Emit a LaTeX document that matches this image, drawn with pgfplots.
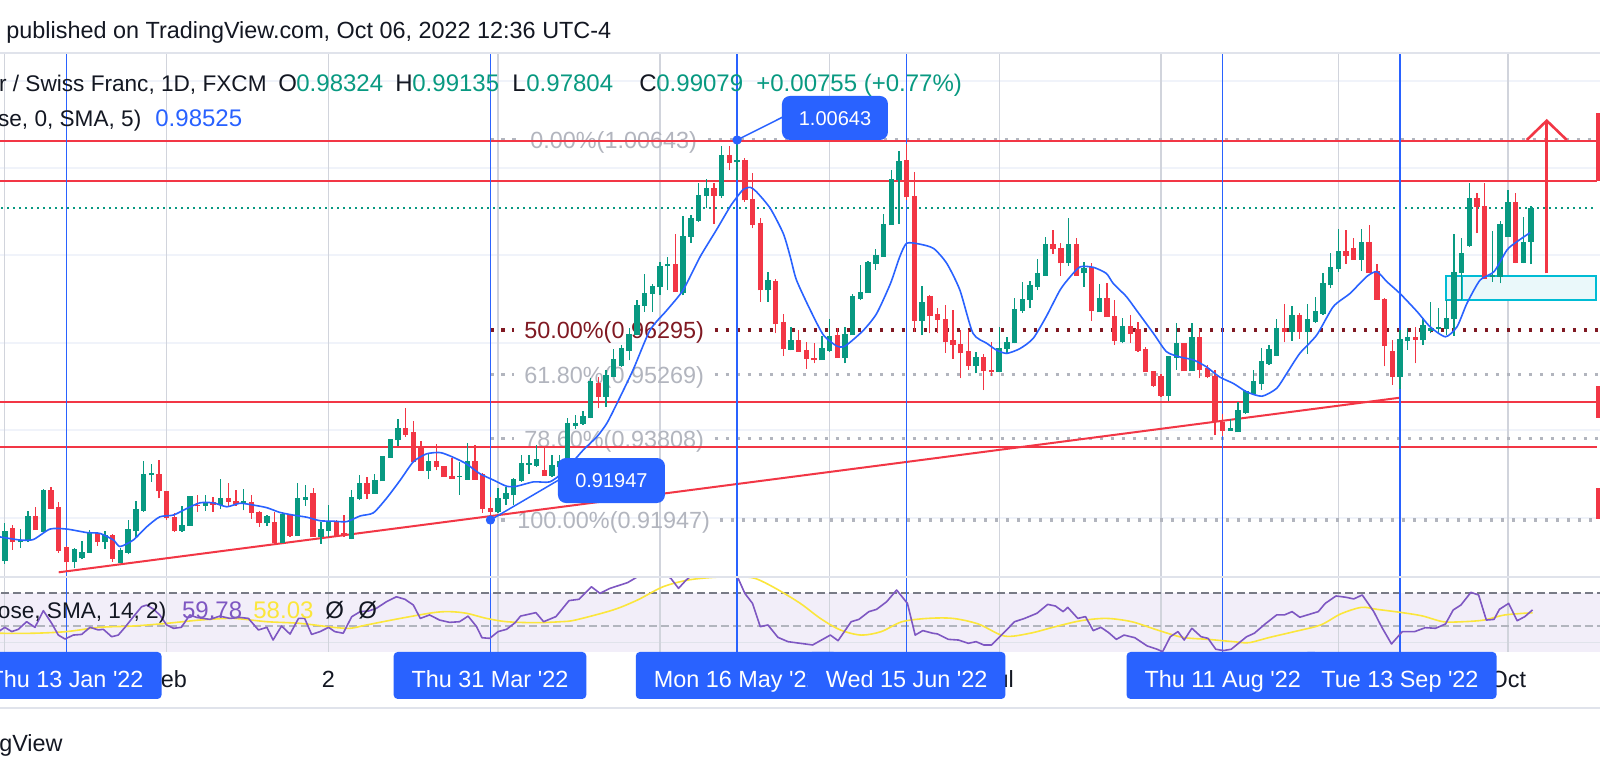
\documentclass[border=0pt]{standalone}
\usepackage{fontspec}
\setmainfont{Liberation Sans}
\usepackage{pgfplots}
\pgfplotsset{compat=1.18}
\usepackage{pgfplotstable}
\definecolor{upc}{HTML}{089981}
\definecolor{dnc}{HTML}{F23645}
\definecolor{tvblue}{HTML}{2962FF}
\definecolor{txt}{HTML}{131722}
\definecolor{fibgray}{HTML}{B2B5BE}
\definecolor{fibred}{HTML}{801922}
\definecolor{gridv}{HTML}{D1D4DC}
\definecolor{gridh}{HTML}{F0F3FA}
\definecolor{sepc}{HTML}{E0E3EB}
\definecolor{rsip}{HTML}{7E57C2}
\definecolor{rsiy}{HTML}{FBE63C}
\definecolor{bandc}{HTML}{F2EEF9}
\definecolor{cyanb}{HTML}{00BCD4}
\definecolor{cyanf}{HTML}{EAF8FA}
\definecolor{dashA}{HTML}{787B86}
\definecolor{dashB}{HTML}{B2B5BE}
\newcommand{\fs}[1]{\fontsize{#1}{#1}\selectfont}
\pgfplotstableread{
i o h l c u
-8 0.9103 0.9189 0.9095 0.9168 1
-7 0.9176 0.9183 0.9127 0.9145 0
-6 0.9145 0.9173 0.9131 0.9149 1
-5 0.9147 0.9215 0.9145 0.9202 1
-4 0.9202 0.9225 0.9172 0.9172 0
-3 0.9168 0.9266 0.9168 0.9263 1
-2 0.9263 0.9271 0.9221 0.9221 0
-1 0.9223 0.9236 0.9120 0.9126 0
0 0.9131 0.9136 0.9076 0.9099 0
1 0.9099 0.9130 0.9084 0.9128 1
2 0.9108 0.9147 0.9105 0.9121 1
3 0.9121 0.9172 0.9120 0.9167 1
4 0.9164 0.9168 0.9136 0.9145 0
5 0.9145 0.9170 0.9128 0.9159 1
6 0.9160 0.9162 0.9099 0.9107 0
7 0.9098 0.9130 0.9098 0.9124 1
8 0.9121 0.9195 0.9116 0.9172 1
9 0.9170 0.9239 0.9156 0.9220 1
10 0.9217 0.9330 0.9214 0.9298 1
11 0.9298 0.9323 0.9282 0.9301 1
12 0.9298 0.9333 0.9244 0.9261 0
13 0.9261 0.9261 0.9195 0.9201 0
14 0.9201 0.9211 0.9168 0.9170 0
15 0.9170 0.9227 0.9168 0.9182 1
16 0.9182 0.9250 0.9182 0.9248 1
17 0.9229 0.9252 0.9214 0.9227 0
18 0.9229 0.9253 0.9216 0.9236 1
19 0.9235 0.9248 0.9214 0.9231 0
20 0.9231 0.9288 0.9219 0.9245 1
21 0.9245 0.9279 0.9227 0.9237 0
22 0.9238 0.9263 0.9227 0.9233 0
23 0.9234 0.9266 0.9217 0.9238 1
24 0.9235 0.9252 0.9198 0.9212 0
25 0.9212 0.9216 0.9179 0.9189 0
26 0.9188 0.9207 0.9181 0.9204 1
27 0.9189 0.9214 0.9139 0.9143 0
28 0.9143 0.9212 0.9141 0.9207 1
29 0.9206 0.9206 0.9156 0.9160 0
30 0.9159 0.9279 0.9159 0.9243 1
31 0.9242 0.9275 0.9227 0.9246 1
32 0.9256 0.9269 0.9156 0.9156 0
33 0.9156 0.9191 0.9140 0.9172 1
34 0.9170 0.9230 0.9156 0.9191 1
35 0.9191 0.9195 0.9160 0.9160 0
36 0.9164 0.9206 0.9156 0.9159 0
37 0.9153 0.9263 0.9151 0.9246 1
38 0.9243 0.9298 0.9240 0.9279 1
39 0.9279 0.9294 0.9242 0.9256 0
40 0.9256 0.9299 0.9256 0.9286 1
41 0.9284 0.9340 0.9284 0.9340 1
42 0.9338 0.9379 0.9338 0.9379 1
43 0.9378 0.9425 0.9364 0.9404 1
44 0.9404 0.9452 0.9385 0.9391 0
45 0.9394 0.9422 0.9327 0.9328 0
46 0.9362 0.9375 0.9308 0.9309 0
47 0.9308 0.9347 0.9288 0.9328 1
48 0.9328 0.9369 0.9308 0.9317 0
49 0.9318 0.9318 0.9294 0.9294 0
50 0.9295 0.9336 0.9290 0.9290 0
51 0.9294 0.9328 0.9252 0.9295 1
52 0.9288 0.9372 0.9288 0.9328 1
53 0.9328 0.9366 0.9288 0.9288 0
54 0.9300 0.9302 0.9211 0.9220 0
55 0.9221 0.9248 0.91947 0.9214 0
56 0.9213 0.9269 0.9210 0.9244 1
57 0.9244 0.9271 0.9229 0.9255 1
58 0.9252 0.9290 0.9229 0.9287 1
59 0.9286 0.9343 0.9282 0.9324 1
60 0.9322 0.9343 0.9301 0.9324 1
61 0.9320 0.9366 0.9316 0.9333 1
62 0.9307 0.9362 0.9296 0.9296 0
63 0.9297 0.9343 0.9293 0.9320 1
64 0.9316 0.9343 0.9301 0.9328 1
65 0.9316 0.9427 0.9316 0.9416 1
66 0.9412 0.9435 0.9404 0.9416 1
67 0.9416 0.9445 0.9412 0.9431 1
68 0.9429 0.9519 0.9427 0.9511 1
69 0.9507 0.9522 0.9450 0.9477 0
70 0.9477 0.9538 0.9454 0.9526 1
71 0.9524 0.9587 0.9522 0.9562 1
72 0.9549 0.9595 0.9545 0.9587 1
73 0.9583 0.9633 0.9560 0.9620 1
74 0.9620 0.9698 0.9618 0.9686 1
75 0.9686 0.9757 0.9671 0.9713 1
76 0.9713 0.9734 0.9671 0.9730 1
77 0.9728 0.9786 0.9709 0.9776 1
78 0.9776 0.9797 0.9721 0.9779 1
79 0.9780 0.9850 0.9717 0.9717 0
80 0.9715 0.9890 0.9709 0.9844 1
81 0.9844 0.9892 0.9829 0.9885 1
82 0.9881 0.9965 0.9877 0.9938 1
83 0.9937 0.9976 0.9908 0.9953 1
84 0.9953 0.9965 0.9873 0.9938 0
85 0.9938 1.0050 0.9931 1.0030 1
86 1.0030 1.0050 0.9995 1.0013 0
87 1.0014 1.00643 0.9973 1.0018 1
88 1.0018 1.0022 0.9923 0.9927 0
89 0.9928 0.9988 0.9862 0.9872 0
90 0.9873 0.9885 0.9694 0.9721 0
91 0.9721 0.9763 0.9694 0.9744 1
92 0.9741 0.9747 0.9622 0.9644 0
93 0.9646 0.9667 0.9570 0.9587 0
94 0.9585 0.9637 0.9583 0.9606 1
95 0.9606 0.9629 0.9580 0.9581 0
96 0.9583 0.9602 0.9541 0.9564 0
97 0.9564 0.9599 0.9553 0.9561 0
98 0.9561 0.9615 0.9561 0.9587 1
99 0.9583 0.9654 0.9580 0.9614 1
100 0.9618 0.9633 0.9566 0.9566 0
101 0.9566 0.9637 0.9553 0.9619 1
102 0.9618 0.9712 0.9618 0.9706 1
103 0.9702 0.9778 0.9698 0.9715 1
104 0.9715 0.9787 0.9715 0.9784 1
105 0.9782 0.9816 0.9767 0.9799 1
106 0.9797 0.9896 0.9797 0.9872 1
107 0.9870 0.9995 0.9870 0.9973 1
108 0.9973 1.0040 0.9873 1.0015 1
109 1.0017 1.0055 0.9927 0.9934 0
110 0.9936 0.9992 0.9625 0.9652 0
111 0.9652 0.9731 0.9618 0.9692 1
112 0.9706 0.9709 0.9622 0.9662 0
113 0.9664 0.9679 0.9622 0.9654 0
114 0.9654 0.9686 0.9577 0.9602 0
115 0.9605 0.9675 0.9564 0.9597 0
116 0.9597 0.9629 0.9519 0.9577 0
117 0.9580 0.9629 0.9539 0.9549 0
118 0.9549 0.9580 0.9530 0.9567 1
119 0.9567 0.9574 0.9492 0.9536 0
120 0.9538 0.9602 0.9524 0.9534 0
121 0.9534 0.9637 0.9534 0.9587 1
122 0.9587 0.9614 0.9574 0.9602 1
123 0.9600 0.9702 0.9599 0.9677 1
124 0.9675 0.9740 0.9669 0.9699 1
125 0.9699 0.9742 0.9679 0.9732 1
126 0.9730 0.9793 0.9721 0.9759 1
127 0.9755 0.9843 0.9755 0.9826 1
128 0.9825 0.9858 0.9803 0.9815 0
129 0.9816 0.9828 0.9754 0.9783 0
130 0.9783 0.9885 0.9776 0.9826 1
131 0.9825 0.9839 0.9755 0.9755 0
132 0.9760 0.9786 0.9728 0.9770 1
133 0.9773 0.9783 0.9651 0.9673 0
134 0.9671 0.9734 0.9671 0.9702 1
135 0.9702 0.9736 0.9660 0.9660 0
136 0.9661 0.9698 0.9595 0.9605 0
137 0.9603 0.9656 0.9599 0.9638 1
138 0.9638 0.9664 0.9599 0.9622 0
139 0.9631 0.9648 0.9580 0.9583 0
140 0.9585 0.9590 0.9534 0.9534 0
141 0.9534 0.9536 0.9499 0.9503 0
142 0.9524 0.9528 0.9477 0.9480 0
143 0.9480 0.9570 0.9467 0.9568 1
144 0.9566 0.9646 0.9539 0.9599 1
145 0.9599 0.9599 0.9536 0.9536 0
146 0.9536 0.9646 0.9536 0.9612 1
147 0.9612 0.9631 0.9519 0.9539 0
148 0.9541 0.9549 0.9519 0.9522 0
149 0.9524 0.9539 0.9389 0.9419 0
150 0.9417 0.9438 0.9387 0.9400 0
151 0.9400 0.9425 0.9399 0.9404 1
152 0.9396 0.9465 0.9396 0.9445 1
153 0.9440 0.9492 0.9438 0.9488 1
154 0.9484 0.9539 0.9484 0.9511 1
155 0.9507 0.9588 0.9492 0.9557 1
156 0.9553 0.9595 0.9549 0.9585 1
157 0.9572 0.9654 0.9570 0.9633 1
158 0.9633 0.9689 0.9601 0.9626 0
159 0.9626 0.9684 0.9605 0.9662 1
160 0.9662 0.9668 0.9610 0.9626 0
161 0.9626 0.9689 0.9575 0.9654 1
162 0.9649 0.9704 0.9646 0.9672 1
163 0.9668 0.9759 0.9664 0.9735 1
164 0.9733 0.9805 0.9725 0.9773 1
165 0.9771 0.9860 0.9763 0.9810 1
166 0.9810 0.9858 0.9781 0.9800 0
167 0.9816 0.9839 0.9790 0.9791 0
168 0.9791 0.9860 0.9765 0.9830 1
169 0.9830 0.9870 0.9761 0.9761 0
170 0.9763 0.9781 0.9700 0.9700 0
171 0.9700 0.9702 0.9546 0.9593 0
172 0.9580 0.9607 0.9504 0.9524 0
173 0.9524 0.9630 0.9495 0.9607 1
174 0.9605 0.9633 0.9584 0.9613 1
175 0.9613 0.9637 0.9553 0.9608 0
176 0.9607 0.9656 0.9595 0.9639 1
177 0.9629 0.9694 0.9622 0.9633 1
178 0.9633 0.9679 0.9622 0.9636 1
179 0.9633 0.9698 0.9618 0.9656 1
180 0.9655 0.9849 0.9616 0.9761 1
181 0.9761 0.9841 0.9698 0.9805 1
182 0.9822 0.9965 0.9820 0.9931 1
183 0.9931 0.9942 0.9851 0.9912 0
184 0.9913 0.9965 0.9748 0.9748 0
185 0.9752 0.9856 0.9740 0.9755 1
186 0.9752 0.9878 0.9736 0.9870 1
187 0.9843 0.9950 0.9842 0.9922 1
188 0.9922 0.9942 0.9782 0.9784 0
189 0.9784 0.9887 0.9782 0.9830 1
190 0.98324 0.99135 0.97804 0.99079 1
}\candles
\pgfplotstablegetrowsof{\candles}
\pgfmathtruncatemacro{\Nrows}{\pgfplotsretval-1}
\begin{document}
\begin{tikzpicture}
\path[use as bounding box] (0,0) rectangle (800bp,389bp);
\fill[white] (0,0) rectangle (800bp,389bp);
% ---------------- price pane ----------------
\begin{axis}[at={(0bp,100.5bp)}, anchor=south west, width=800bp, height=261.85bp,
  scale only axis, xmin=-8.627, xmax=198.95, ymin=0.90643, ymax=1.02627, hide axis, clip=true]
\pgfplotsinvokeforeach{0.92,0.94,0.96,0.98,1.00,1.02}{
  \addplot[gridh, line width=1bp, forget plot] coordinates {(-10,#1) (200,#1)};}
\pgfplotsinvokeforeach{-8,13,34,56,77,99,121,142,165,187}{
  \addplot[gridv, line width=0.65bp, forget plot] coordinates {(#1,0.85) (#1,1.05)};}
% demand zone
\addplot[draw=cyanb, fill=cyanf, line width=1bp] coordinates {(178.93,0.96982) (198.44,0.96982) (198.44,0.97538) (178.93,0.97538)} -- cycle;
\addplot[draw=cyanb, fill=cyanf, line width=1bp] coordinates {(181.08,0.96982) (198.44,0.96982) (198.44,0.97538) (181.08,0.97538)} -- cycle;
% fib levels
\addplot[fibgray, line width=1.65bp, dash pattern=on 1.65bp off 3.85bp] coordinates {(55,1.00643) (58.6,1.00643)};
\addplot[fibgray, line width=1.65bp, dash pattern=on 1.65bp off 3.85bp] coordinates {(83.2,1.00643) (200,1.00643)};
\addplot[fibred, line width=1.65bp, dash pattern=on 1.65bp off 3.85bp] coordinates {(55,0.96295) (58.0,0.96295)};
\addplot[fibred, line width=1.65bp, dash pattern=on 1.65bp off 3.85bp] coordinates {(84.1,0.96295) (200,0.96295)};
\addplot[fibgray, line width=1.65bp, dash pattern=on 1.65bp off 3.85bp] coordinates {(55,0.95269) (58.0,0.95269)};
\addplot[fibgray, line width=1.65bp, dash pattern=on 1.65bp off 3.85bp] coordinates {(84.1,0.95269) (200,0.95269)};
\addplot[fibgray, line width=1.65bp, dash pattern=on 1.65bp off 3.85bp] coordinates {(55,0.93808) (58.0,0.93808)};
\addplot[fibgray, line width=1.65bp, dash pattern=on 1.65bp off 3.85bp] coordinates {(84.1,0.93808) (200,0.93808)};
\addplot[fibgray, line width=1.65bp, dash pattern=on 1.65bp off 3.85bp] coordinates {(55,0.91947) (57.2,0.91947)};
\addplot[fibgray, line width=1.65bp, dash pattern=on 1.65bp off 3.85bp] coordinates {(84.8,0.91947) (200,0.91947)};
\node[anchor=west, inner sep=0pt, text height=8.4bp, text depth=0pt, text=fibgray, font=\fs{11.7bp}] at (axis cs:60.13,1.00643) {0.00\%(1.00643)};
\node[anchor=west, inner sep=0pt, text height=8.4bp, text depth=0pt, text=fibred, font=\fs{11.7bp}] at (axis cs:59.35,0.96295) {50.00\%(0.96295)};
\node[anchor=west, inner sep=0pt, text height=8.4bp, text depth=0pt, text=fibgray, font=\fs{11.7bp}] at (axis cs:59.35,0.95269) {61.80\%(0.95269)};
\node[anchor=west, inner sep=0pt, text height=8.4bp, text depth=0pt, text=fibgray, font=\fs{11.7bp}] at (axis cs:59.35,0.93808) {78.60\%(0.93808)};
\node[anchor=west, inner sep=0pt, text height=8.4bp, text depth=0pt, text=fibgray, font=\fs{11.7bp}] at (axis cs:58.45,0.91947) {100.00\%(0.91947)};
% current price line
\addplot[upc, line width=0.9bp, dash pattern=on 1bp off 2bp] coordinates {(-10,0.99079) (198.3,0.99079)};
% support / resistance
\pgfplotsinvokeforeach{1.0062,0.9970,0.9465,0.9362}{
  \addplot[dnc, line width=1bp, forget plot] coordinates {(-10,#1) (198.5,#1)};}
\addplot[dnc, line width=1bp] coordinates {(-1.01,0.90750) (173,0.94746)};
% date markers
\pgfplotsinvokeforeach{0,55,87,109,150,173}{
  \addplot[tvblue, line width=0.75bp, forget plot] coordinates {(#1,0.85) (#1,1.05)};}
% candles
\pgfplotsforeachungrouped \k in {0,...,\Nrows}{%
  \pgfplotstablegetelem{\k}{i}\of\candles\let\cI\pgfplotsretval
  \pgfplotstablegetelem{\k}{o}\of\candles\let\cO\pgfplotsretval
  \pgfplotstablegetelem{\k}{h}\of\candles\let\cH\pgfplotsretval
  \pgfplotstablegetelem{\k}{l}\of\candles\let\cL\pgfplotsretval
  \pgfplotstablegetelem{\k}{c}\of\candles\let\cC\pgfplotsretval
  \pgfplotstablegetelem{\k}{u}\of\candles\let\cU\pgfplotsretval
  \ifnum\cU=1 \def\cc{upc}\else\def\cc{dnc}\fi
  \pgfmathsetmacro\cB{min(\cO,\cC)-0.0001}%
  \pgfmathsetmacro\cT{max(\cO,\cC)+0.0001}%
  \edef\doit{\noexpand\addplot[\cc, line width=0.65bp, forget plot] coordinates {(\cI,\cL) (\cI,\cH)};%
    \noexpand\addplot[\cc, line width=2.7bp, forget plot] coordinates {(\cI,\cB) (\cI,\cT)};}%
  \doit
}
% SMA 5
\addplot[tvblue, line width=0.8bp, smooth, tension=0.4] coordinates {
(-8.63,0.9156) (-6.03,0.9149) (-4.3,0.9150) (-2.14,0.9174) (0.02,0.9174) (2.62,0.9166) (4.35,0.9164)
(6.08,0.9149) (6.94,0.9134) (8.67,0.9149) (10.4,0.9179) (12.1,0.9202) (13.86,0.9206) (15.6,0.9221)
(17.3,0.9234) (19.05,0.9234) (20.8,0.9225) (22.5,0.9233) (24.2,0.9229) (25.97,0.9223) (27.7,0.9212)
(29.4,0.9206) (31.2,0.9201) (32.9,0.9193) (34.6,0.9192) (36.35,0.9191) (38.1,0.9204) (39.8,0.9211)
(41.5,0.9244) (43.3,0.9286) (45.0,0.9328) (46.7,0.9346) (48.5,0.9349) (50.2,0.9338) (51.9,0.9323)
(53.6,0.9301) (55.4,0.9286) (57.1,0.9272) (58.4,0.9272) (60.6,0.9282) (62.7,0.9282) (64.5,0.9305)
(67.05,0.9355) (68.8,0.9385) (70.1,0.9416) (71.4,0.9461) (73.5,0.9538) (75.7,0.9629) (77.9,0.9675)
(80.0,0.9721) (82.2,0.9797) (84.3,0.9858) (86.1,0.9912) (87.0,0.9934) (87.8,0.9951) (88.7,0.9956)
(89.5,0.9946) (91.3,0.9908) (93.0,0.9850) (93.9,0.9797) (94.7,0.9744) (96.5,0.9675) (98.2,0.9618)
(99.9,0.9593) (100.8,0.9591) (101.7,0.9602) (103.4,0.9629) (105.1,0.9667) (106.9,0.9736) (108.1,0.9797)
(109.0,0.9828) (110.7,0.9826) (112.5,0.9816) (114.2,0.9782) (115.9,0.9721) (117.6,0.9622) (119.4,0.9599)
(120.7,0.9583) (122.0,0.9576) (123.7,0.9587) (125.4,0.9610) (127.1,0.9660) (128.9,0.9721) (130.2,0.9751)
(131.5,0.9774) (133.2,0.9773) (134.9,0.9759) (135.8,0.9736) (137.5,0.9706) (138.8,0.9675) (141.0,0.9622)
(142.7,0.9580) (144.4,0.9568) (146.2,0.9561) (147.9,0.9545) (149.6,0.9522) (151.4,0.9507) (153.1,0.9488)
(155.1,0.9478) (157.0,0.9496) (158.3,0.9530) (160.0,0.9576) (162.2,0.9618) (164.35,0.9683) (166.5,0.9713)
(168.7,0.9752) (170.0,0.9763) (171.3,0.9740) (173.0,0.9713) (175.2,0.9672) (176.9,0.9637) (178.9,0.9614)
(180.4,0.9637) (181.7,0.9691) (183.4,0.9744) (185.2,0.9763) (186.9,0.9813) (188.2,0.9832) (189.9,0.98525)};
% anchors and connectors
\addplot[tvblue, line width=0.75bp] coordinates {(55,0.91947) (64.3,0.92908)};
\addplot[tvblue, line width=0.75bp] coordinates {(87,1.00643) (93.2,1.01192)};
\addplot[only marks, mark=*, mark size=2.1bp, mark options={draw=tvblue, fill=tvblue}] coordinates {(55,0.91947) (87,1.00643)};
\node[fill=tvblue, text=white, rounded corners=4bp, minimum width=53bp, minimum height=22bp, inner sep=0pt,
  text height=7.2bp, text depth=0pt, font=\fs{10bp}] at (axis cs:99.7,1.01147) {1.00643};
\node[fill=tvblue, text=white, rounded corners=4bp, minimum width=53.5bp, minimum height=22.5bp, inner sep=0pt,
  text height=7.2bp, text depth=0pt, font=\fs{10bp}] at (axis cs:70.7,0.92851) {0.91947};
% arrow
\addplot[dnc, line width=1.3bp] coordinates {(192.04,0.97593) (192.04,1.01085)};
\addplot[dnc, line width=1.3bp, line join=miter] coordinates {(189.45,1.00643) (192.04,1.01085) (194.64,1.00643)};
\end{axis}
% ---------------- RSI pane ----------------
\begin{axis}[at={(0bp,63bp)}, anchor=south west, width=800bp, height=37.5bp,
  scale only axis, xmin=-8.627, xmax=198.95, ymin=34.24, ymax=79.70, hide axis, clip=true]
\addplot[fill=bandc, draw=none] coordinates {(-10,30) (200,30) (200,70) (-10,70)} -- cycle;
\addplot[sepc, line width=0.8bp] coordinates {(-10,40) (200,40)};
\pgfplotsinvokeforeach{-8,13,34,56,77,99,121,142,165,187}{
  \addplot[gridv, line width=0.65bp, forget plot] coordinates {(#1,0) (#1,100)};}
\addplot[dashA, line width=0.75bp, dash pattern=on 3.6bp off 2.4bp] coordinates {(-10,70) (200,70)};
\addplot[dashB, line width=0.75bp, dash pattern=on 3.6bp off 2.4bp] coordinates {(-10,50) (200,50)};
\pgfplotsinvokeforeach{0,55,87,109,150,173}{
  \addplot[tvblue, line width=0.75bp, forget plot] coordinates {(#1,0) (#1,100)};}
\addplot[rsiy, line width=0.8bp, smooth, tension=0.5] coordinates {
(-9,45.6) (-4.3,45.6) (0,46.6) (4.3,49.2) (8.7,50.0) (13.0,51.6) (17.3,53.6) (21.6,54.6) (26,52.6)
(30.3,51.6) (34.6,49.2) (36.8,48.6) (38.9,50.6) (43.3,54.6) (47.6,58.1) (49.7,58.7) (51.9,57.7)
(54.5,54.6) (57.1,52.6) (60.9,52.0) (64.1,52.6) (66.0,53.6) (70.9,59.7) (74.1,65.8) (77.4,73.8)
(80.7,77.9) (84.0,79.5) (87.0,79.9) (89.3,78.9) (92.0,72.8) (95.2,63.7) (97.8,54.6) (100.4,47.6)
(103.1,44.5) (105.7,46.6) (108.4,52.6) (111.7,54.6) (115.0,54.6) (118.3,51.2) (121.7,43.9) (125.0,45.6)
(128.3,49.6) (131.6,53.2) (134.9,54.6) (138.2,52.6) (141.5,47.6) (144.8,43.1) (148.1,41.9) (151.4,40.5)
(153.4,39.9) (156.1,43.1) (159.3,46.6) (162.7,50.6) (165.3,57.3) (168.0,61.3) (170.0,60.1) (173.3,58.1)
(175.9,56.1) (178.6,52.6) (181.2,52.6) (183.9,53.6) (186.6,56.7) (190.2,58.03)};
\addplot[rsip, line width=0.8bp, line join=round] coordinates {
(-9,46.0) (-8.0,49.2) (-7.1,46.6) (-6.25,48.0) (-5.17,52.6) (-4.09,49.2) (-3.0,59.3) (-1.92,51.6)
(-1.06,44.5) (-0.2,42.1) (0.88,44.5) (1.97,44.9) (3.05,49.2) (4.13,47.6) (4.78,48.0) (5.86,43.5)
(6.72,44.5) (7.59,49.2) (8.67,55.6) (9.75,61.7) (10.4,62.7) (11.3,60.1) (12.1,56.7) (13.0,50.6)
(13.9,48.6) (14.9,49.2) (16.0,56.7) (16.9,55.2) (18.6,54.0) (19.9,56.0) (21.2,54.6) (22.5,55.2)
(23.6,54.6) (24.9,47.6) (26.0,49.2) (26.8,41.5) (27.9,50.0) (29.0,45.1) (30.1,54.6) (30.9,54.6)
(31.8,44.9) (32.9,46.6) (34.0,49.2) (34.8,46.6) (35.9,45.6) (37.0,55.6) (38.1,58.7) (39.2,59.1)
(40.2,60.7) (41.5,64.7) (42.8,67.7) (43.9,66.2) (45.0,62.7) (45.9,54.6) (47.1,56.7) (48.4,53.6)
(49.7,52.2) (51.0,52.6) (52.1,56.0) (53.2,49.6) (53.9,42.9) (54.9,42.5) (56.0,46.6) (57.1,48.0)
(58.2,52.0) (58.9,56.0) (60.9,58.1) (61.9,52.6) (63.5,55.7) (65.2,65.4) (66.5,66.2) (68.1,73.8)
(69.2,69.8) (70.5,72.8) (72.8,76.3) (74.1,79.9) (75.5,84) (77,83) (78.4,78.9) (79.4,72.8) (80.4,77.9)
(82,84) (84,85) (85.5,86) (87.0,80.3) (88.0,69.8) (89.0,63.7) (90.0,49.6) (91.0,50.6) (92.3,43.1)
(93.6,40.5) (95.2,39.5) (96.8,38.5) (99.1,44.5) (100.1,41.1) (101.8,52.6) (102.8,54.0) (104.1,58.7)
(105.1,60.1) (106.4,64.7) (107.7,71.8) (109.1,63.7) (110.1,44.5) (111.1,47.2) (112.4,45.6) (113.0,45.2)
(114.4,41.9) (115.7,41.5) (117.0,39.5) (118.0,40.5) (119.0,38.5) (120.0,38.5) (121.3,44.5) (123.0,52.6)
(124.3,54.6) (125.9,57.7) (127.3,63.1) (128.3,62.1) (129.3,58.7) (129.9,61.3) (131.2,54.6) (132.2,55.7)
(133.2,47.2) (134.2,49.2) (135.2,46.0) (136.2,41.9) (137.2,44.5) (138.6,42.9) (140.2,37.9) (141.5,35.9)
(142.2,34.4) (143.2,43.5) (144.2,46.6) (145.0,41.5) (146.0,48.6) (147.2,43.5) (148.1,42.5) (149.1,35.9)
(150.1,35.1) (151.1,35.9) (153.1,43.5) (154.1,45.6) (155.5,51.2) (157.0,56.7) (158.0,56.7) (159.0,58.7)
(160.0,55.3) (161.4,57.3) (162.4,58.7) (163.3,63.7) (164.7,68.2) (166.0,67.4) (167.0,66.4) (168.1,68.8)
(169.6,58.7) (170.6,49.6) (171.9,39.1) (173.3,46.6) (174.9,46.6) (176.3,49.0) (177.6,48.6) (178.9,51.2)
(179.9,59.7) (180.9,62.7) (182.2,70.4) (183.2,68.8) (184.2,53.6) (185.2,54.0) (185.9,60.1) (187.1,63.7)
(188.2,53.2) (189.2,55.7) (190.2,59.78)};
\end{axis}
% ---------------- texts in pixel coordinates ----------------
\begin{scope}[x=0.5bp, y=-0.5bp, shift={(0bp,389bp)}]
\fill[sepc] (0,52.3) rectangle (1600,54.3);
\fill[sepc] (0,575.7) rectangle (1600,577.7);
\fill[sepc] (0,706.7) rectangle (1600,708.7);
\fill[dnc] (1596,113) rectangle (1600,181);
\fill[dnc] (1596,386) rectangle (1600,418);
\fill[dnc] (1596,488) rectangle (1600,519);
\node[anchor=base west, inner sep=0pt, text=txt, font=\fs{11.7bp}] at (6,38.3) {published on TradingView.com, Oct 06, 2022 12:36 UTC-4};
% legend line 1
\node[anchor=base east, inner sep=0pt, text=txt, font=\fs{11.3bp}] at (267,91.7) {r / Swiss Franc, 1D, FXCM};
\node[anchor=base west, inner sep=0pt, text=txt, font=\fs{12bp}] at (278,91.7) {O};
\node[anchor=base west, inner sep=0pt, text=upc, font=\fs{12bp}] at (296,91.7) {0.98324};
\node[anchor=base west, inner sep=0pt, text=txt, font=\fs{12bp}] at (395,91.7) {H};
\node[anchor=base west, inner sep=0pt, text=upc, font=\fs{12bp}] at (412,91.7) {0.99135};
\node[anchor=base west, inner sep=0pt, text=txt, font=\fs{12bp}] at (512,91.7) {L};
\node[anchor=base west, inner sep=0pt, text=upc, font=\fs{12bp}] at (526,91.7) {0.97804};
\node[anchor=base west, inner sep=0pt, text=txt, font=\fs{12bp}] at (639,91.7) {C};
\node[anchor=base west, inner sep=0pt, text=upc, font=\fs{12bp}] at (656,91.7) {0.99079};
\node[anchor=base west, inner sep=0pt, text=upc, font=\fs{12bp}] at (756,91.7) {+0.00755 (+0.77\%)};
% legend line 2
\node[anchor=base east, inner sep=0pt, text=txt, font=\fs{11.3bp}] at (141.7,126.8) {ose, 0, SMA, 5)};
\node[anchor=base west, inner sep=0pt, text=tvblue, font=\fs{12bp}] at (155,126.8) {0.98525};
% RSI legend
\node[anchor=base east, inner sep=0pt, text=txt, font=\fs{11.3bp}] at (166.7,618.3) {ose, SMA, 14, 2)};
\node[anchor=base west, inner sep=0pt, text=rsip, font=\fs{12bp}] at (181.7,618.3) {59.78};
\node[anchor=base west, inner sep=0pt, text=rsiy, font=\fs{12bp}] at (253,618.3) {58.03};
\node[anchor=base west, inner sep=0pt, text=txt, font=\fs{12bp}] at (325,618.3) {Ø};
\node[anchor=base west, inner sep=0pt, text=txt, font=\fs{12bp}] at (358,618.3) {Ø};
% time axis
\node[anchor=base, inner sep=0pt, text=txt, font=\fs{11.7bp}] at (166.7,687.4) {Feb};
\node[anchor=base, inner sep=0pt, text=txt, font=\fs{11.7bp}] at (328.3,687.4) {2};
\node[anchor=base, inner sep=0pt, text=txt, font=\fs{11.7bp}] at (999,687.4) {Jul};
\node[anchor=base, inner sep=0pt, text=txt, font=\fs{11.7bp}] at (1507.9,687.4) {Oct};
\tikzset{datebox/.style={anchor=base, fill=tvblue, text=white, rounded corners=2bp, inner xsep=9bp, inner ysep=2.7bp,
  text height=15bp, text depth=3.1bp, font=\fs{11.7bp}}}
\node[datebox] at (66.5,687.4) {Thu 13 Jan \textquotesingle22};
\node[datebox] at (490,687.4) {Thu 31 Mar \textquotesingle22};
\node[datebox] at (736.7,687.4) {Mon 16 May \textquotesingle22};
\node[datebox] at (906.7,687.4) {Wed 15 Jun \textquotesingle22};
\node[datebox] at (1222.7,687.4) {Thu 11 Aug \textquotesingle22};
\node[datebox] at (1400,687.4) {Tue 13 Sep \textquotesingle22};
\node[anchor=base east, inner sep=0pt, text=txt, font=\fs{11.7bp}] at (63,751.7) {TradingView};
\end{scope}
\end{tikzpicture}
\end{document}
